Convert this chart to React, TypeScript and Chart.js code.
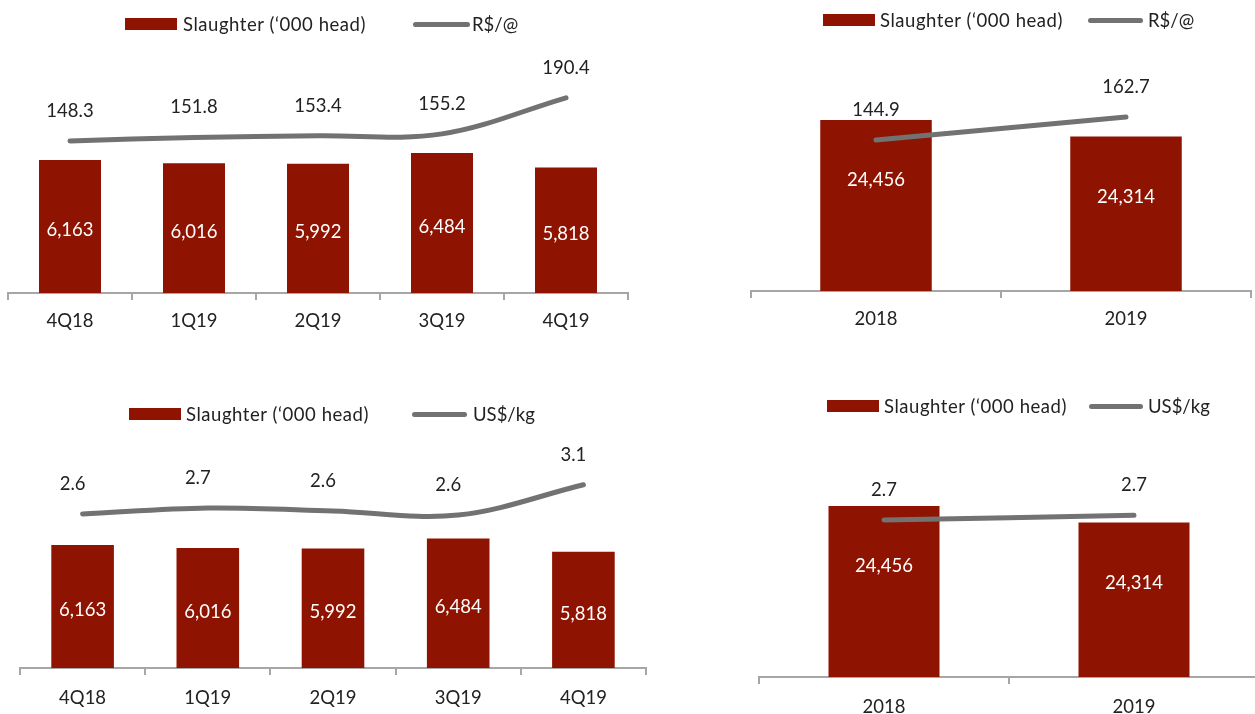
import React, { useEffect, useRef } from "react";
import { Chart, registerables } from "chart.js";

Chart.register(...registerables);

// ---------- data ----------
const QUARTERS = ["4Q18", "1Q19", "2Q19", "3Q19", "4Q19"];
const YEARS = ["2018", "2019"];
const SLAUGHTER_Q = [6163, 6016, 5992, 6484, 5818];
const SLAUGHTER_Y = [24456, 24314];
const PRICE_BRL_Q = [148.3, 151.8, 153.4, 155.2, 190.4];
const PRICE_BRL_Y = [144.9, 162.7];
const PRICE_USD_Q = [2.59, 2.69, 2.64, 2.57, 3.08];
const PRICE_USD_Y = [2.66, 2.74];
const BAR_SERIES = "Slaughter (\u2018000 head)";
const BRL_SERIES = "R$/@";
const USD_SERIES = "US$/kg";

// ---------- style ----------
const FONT = "Lato, 'Open Sans', sans-serif";
const FS = 18.5;
const BAR = "#8e1300";
const LINE = "#727272";
const AXIS = "#a6a6a6";
const TEXT = "#222222";

const valueLabels = {
  id: "valueLabels",
  afterDatasetsDraw(chart: any, _a: any, opts: any) {
    const ctx = chart.ctx;
    ctx.save();
    ctx.font = `${FS}px ${FONT}`;
    ctx.textAlign = "center";
    ctx.textBaseline = "middle";
    chart.data.datasets.forEach((ds: any, i: number) => {
      const meta = chart.getDatasetMeta(i);
      meta.data.forEach((el: any, j: number) => {
        const v = ds.data[j];
        if (ds.type === "bar") {
          ctx.fillStyle = "#ffffff";
          const y =
            opts.barMode === "center" ? (el.y + el.base) / 2 + 4 : el.y + opts.barDrop;
          ctx.fillText(Number(v).toLocaleString("en-US"), el.x, y);
        } else {
          ctx.fillStyle = TEXT;
          ctx.fillText(Number(v).toFixed(1), el.x + (opts.dx || 0), el.y - opts.raise);
        }
      });
    });
    ctx.restore();
  },
};

type Cfg = {
  left: number;
  top: number;
  width: number;
  height: number;
  labels: string[];
  bars: number[];
  line: number[];
  lineName: string;
  pad: { left: number; right: number; top: number };
  axisH: number;
  tickPad: number;
  barPct: number;
  yMin: number;
  yMax: number;
  y1Min: number;
  y1Max: number;
  barMode: "center" | "top";
  barDrop?: number;
  dx?: number;
  legend: { box: number; cy: number; text: number; line: number; lineW: number; text2: number };
};

function ComboChart({ cfg }: { cfg: Cfg }) {
  const ref = useRef<HTMLCanvasElement | null>(null);
  useEffect(() => {
    if (!ref.current) return;
    const chart = new Chart(ref.current, {
      type: "bar",
      data: {
        labels: cfg.labels,
        datasets: [
          {
            type: "line",
            label: cfg.lineName,
            data: cfg.line,
            borderColor: LINE,
            backgroundColor: LINE,
            borderWidth: 5,
            borderCapStyle: "round",
            tension: 0.35,
            pointRadius: 0,
            yAxisID: "y1",
            order: 1,
          } as any,
          {
            type: "bar",
            label: BAR_SERIES,
            data: cfg.bars,
            backgroundColor: BAR,
            barPercentage: cfg.barPct,
            categoryPercentage: 1,
            yAxisID: "y",
            order: 2,
          } as any,
        ],
      },
      options: {
        responsive: false,
        animation: false,
        devicePixelRatio: 1,
        layout: { padding: { left: cfg.pad.left, right: cfg.pad.right, top: cfg.pad.top, bottom: 0 } },
        plugins: {
          legend: { display: false },
          tooltip: { enabled: false },
          valueLabels: { barMode: cfg.barMode, barDrop: cfg.barDrop, raise: 30, dx: cfg.dx || 0 },
        } as any,
        scales: {
          x: {
            offset: true,
            grid: {
              display: true,
              offset: true,
              drawOnChartArea: false,
              drawTicks: true,
              tickLength: 7,
              tickWidth: 2,
              tickColor: AXIS,
              lineWidth: 2,
              color: AXIS,
            },
            border: { display: true, color: AXIS, width: 2 },
            ticks: {
              color: TEXT,
              font: { family: FONT, size: FS },
              padding: cfg.tickPad,
              maxRotation: 0,
              autoSkip: false,
            },
            afterFit: (s: any) => {
              s.height = cfg.axisH;
            },
          },
          y: { display: false, min: cfg.yMin, max: cfg.yMax },
          y1: { display: false, position: "right", min: cfg.y1Min, max: cfg.y1Max },
        },
      } as any,
      plugins: [valueLabels as any],
    });
    return () => chart.destroy();
  }, [cfg]);

  const lg = cfg.legend;
  const textStyle: React.CSSProperties = {
    position: "absolute",
    top: lg.cy - 11,
    height: 22,
    lineHeight: "22px",
    fontFamily: FONT,
    fontSize: FS,
    color: TEXT,
    whiteSpace: "nowrap",
  };
  return (
    <>
      <canvas
        ref={ref}
        width={cfg.width}
        height={cfg.height}
        style={{ position: "absolute", left: cfg.left, top: cfg.top, width: cfg.width, height: cfg.height }}
      />
      <div style={{ position: "absolute", left: lg.box, top: lg.cy - 6, width: 52, height: 12, background: BAR }} />
      <div style={{ ...textStyle, left: lg.text, letterSpacing: "0.55px" }}>{BAR_SERIES}</div>
      <div
        style={{
          position: "absolute",
          left: lg.line,
          top: lg.cy - 2.5,
          width: lg.lineW,
          height: 5,
          borderRadius: 3,
          background: LINE,
        }}
      />
      <div style={{ ...textStyle, left: lg.text2 }}>{cfg.lineName}</div>
    </>
  );
}

const CHARTS: Cfg[] = [
  {
    left: 0,
    top: 0,
    width: 640,
    height: 340,
    labels: QUARTERS,
    bars: SLAUGHTER_Q,
    line: PRICE_BRL_Q,
    lineName: BRL_SERIES,
    pad: { left: 8, right: 12, top: 40 },
    axisH: 47,
    tickPad: 10,
    barPct: 0.5,
    yMin: 0,
    yMax: 11724,
    y1Min: 0,
    y1Max: 246.8,
    barMode: "center",
    legend: { box: 125, cy: 24, text: 183, line: 413, lineW: 57, text2: 472 },
  },
  {
    left: 740,
    top: 0,
    width: 515,
    height: 340,
    labels: YEARS,
    bars: SLAUGHTER_Y,
    line: PRICE_BRL_Y,
    lineName: BRL_SERIES,
    pad: { left: 11, right: 4, top: 40 },
    axisH: 49,
    tickPad: 10,
    barPct: 0.446,
    yMin: 23000,
    yMax: 25136,
    y1Min: 28,
    y1Max: 222.3,
    barMode: "top",
    barDrop: 60,
    legend: { box: 823, cy: 20, text: 880, line: 1088, lineW: 55, text2: 1148 },
  },
  {
    left: 0,
    top: 380,
    width: 660,
    height: 334,
    labels: QUARTERS,
    bars: SLAUGHTER_Q,
    line: PRICE_USD_Q,
    lineName: USD_SERIES,
    pad: { left: 20, right: 14, top: 60 },
    axisH: 46,
    tickPad: 12,
    barPct: 0.5,
    yMin: 0,
    yMax: 11423,
    y1Min: 0,
    y1Max: 3.832,
    barMode: "center",
    dx: -10,
    legend: { box: 129, cy: 414, text: 186, line: 412, lineW: 55, text2: 473 },
  },
  {
    left: 740,
    top: 380,
    width: 540,
    height: 334,
    labels: YEARS,
    bars: SLAUGHTER_Y,
    line: PRICE_USD_Y,
    lineName: USD_SERIES,
    pad: { left: 19, right: 21, top: 60 },
    axisH: 37,
    tickPad: 12,
    barPct: 0.444,
    yMin: 23000,
    yMax: 25017,
    y1Min: 0,
    y1Max: 4.017,
    barMode: "top",
    barDrop: 60,
    legend: { box: 827, cy: 406, text: 884, line: 1089, lineW: 54, text2: 1148 },
  },
];

export default function App() {
  return (
    <div
      style={{
        position: "fixed",
        left: 0,
        top: 0,
        width: 1255,
        height: 714,
        overflow: "hidden",
        background: "#ffffff",
      }}
    >
      {CHARTS.map((c, i) => (
        <ComboChart key={i} cfg={c} />
      ))}
    </div>
  );
}
